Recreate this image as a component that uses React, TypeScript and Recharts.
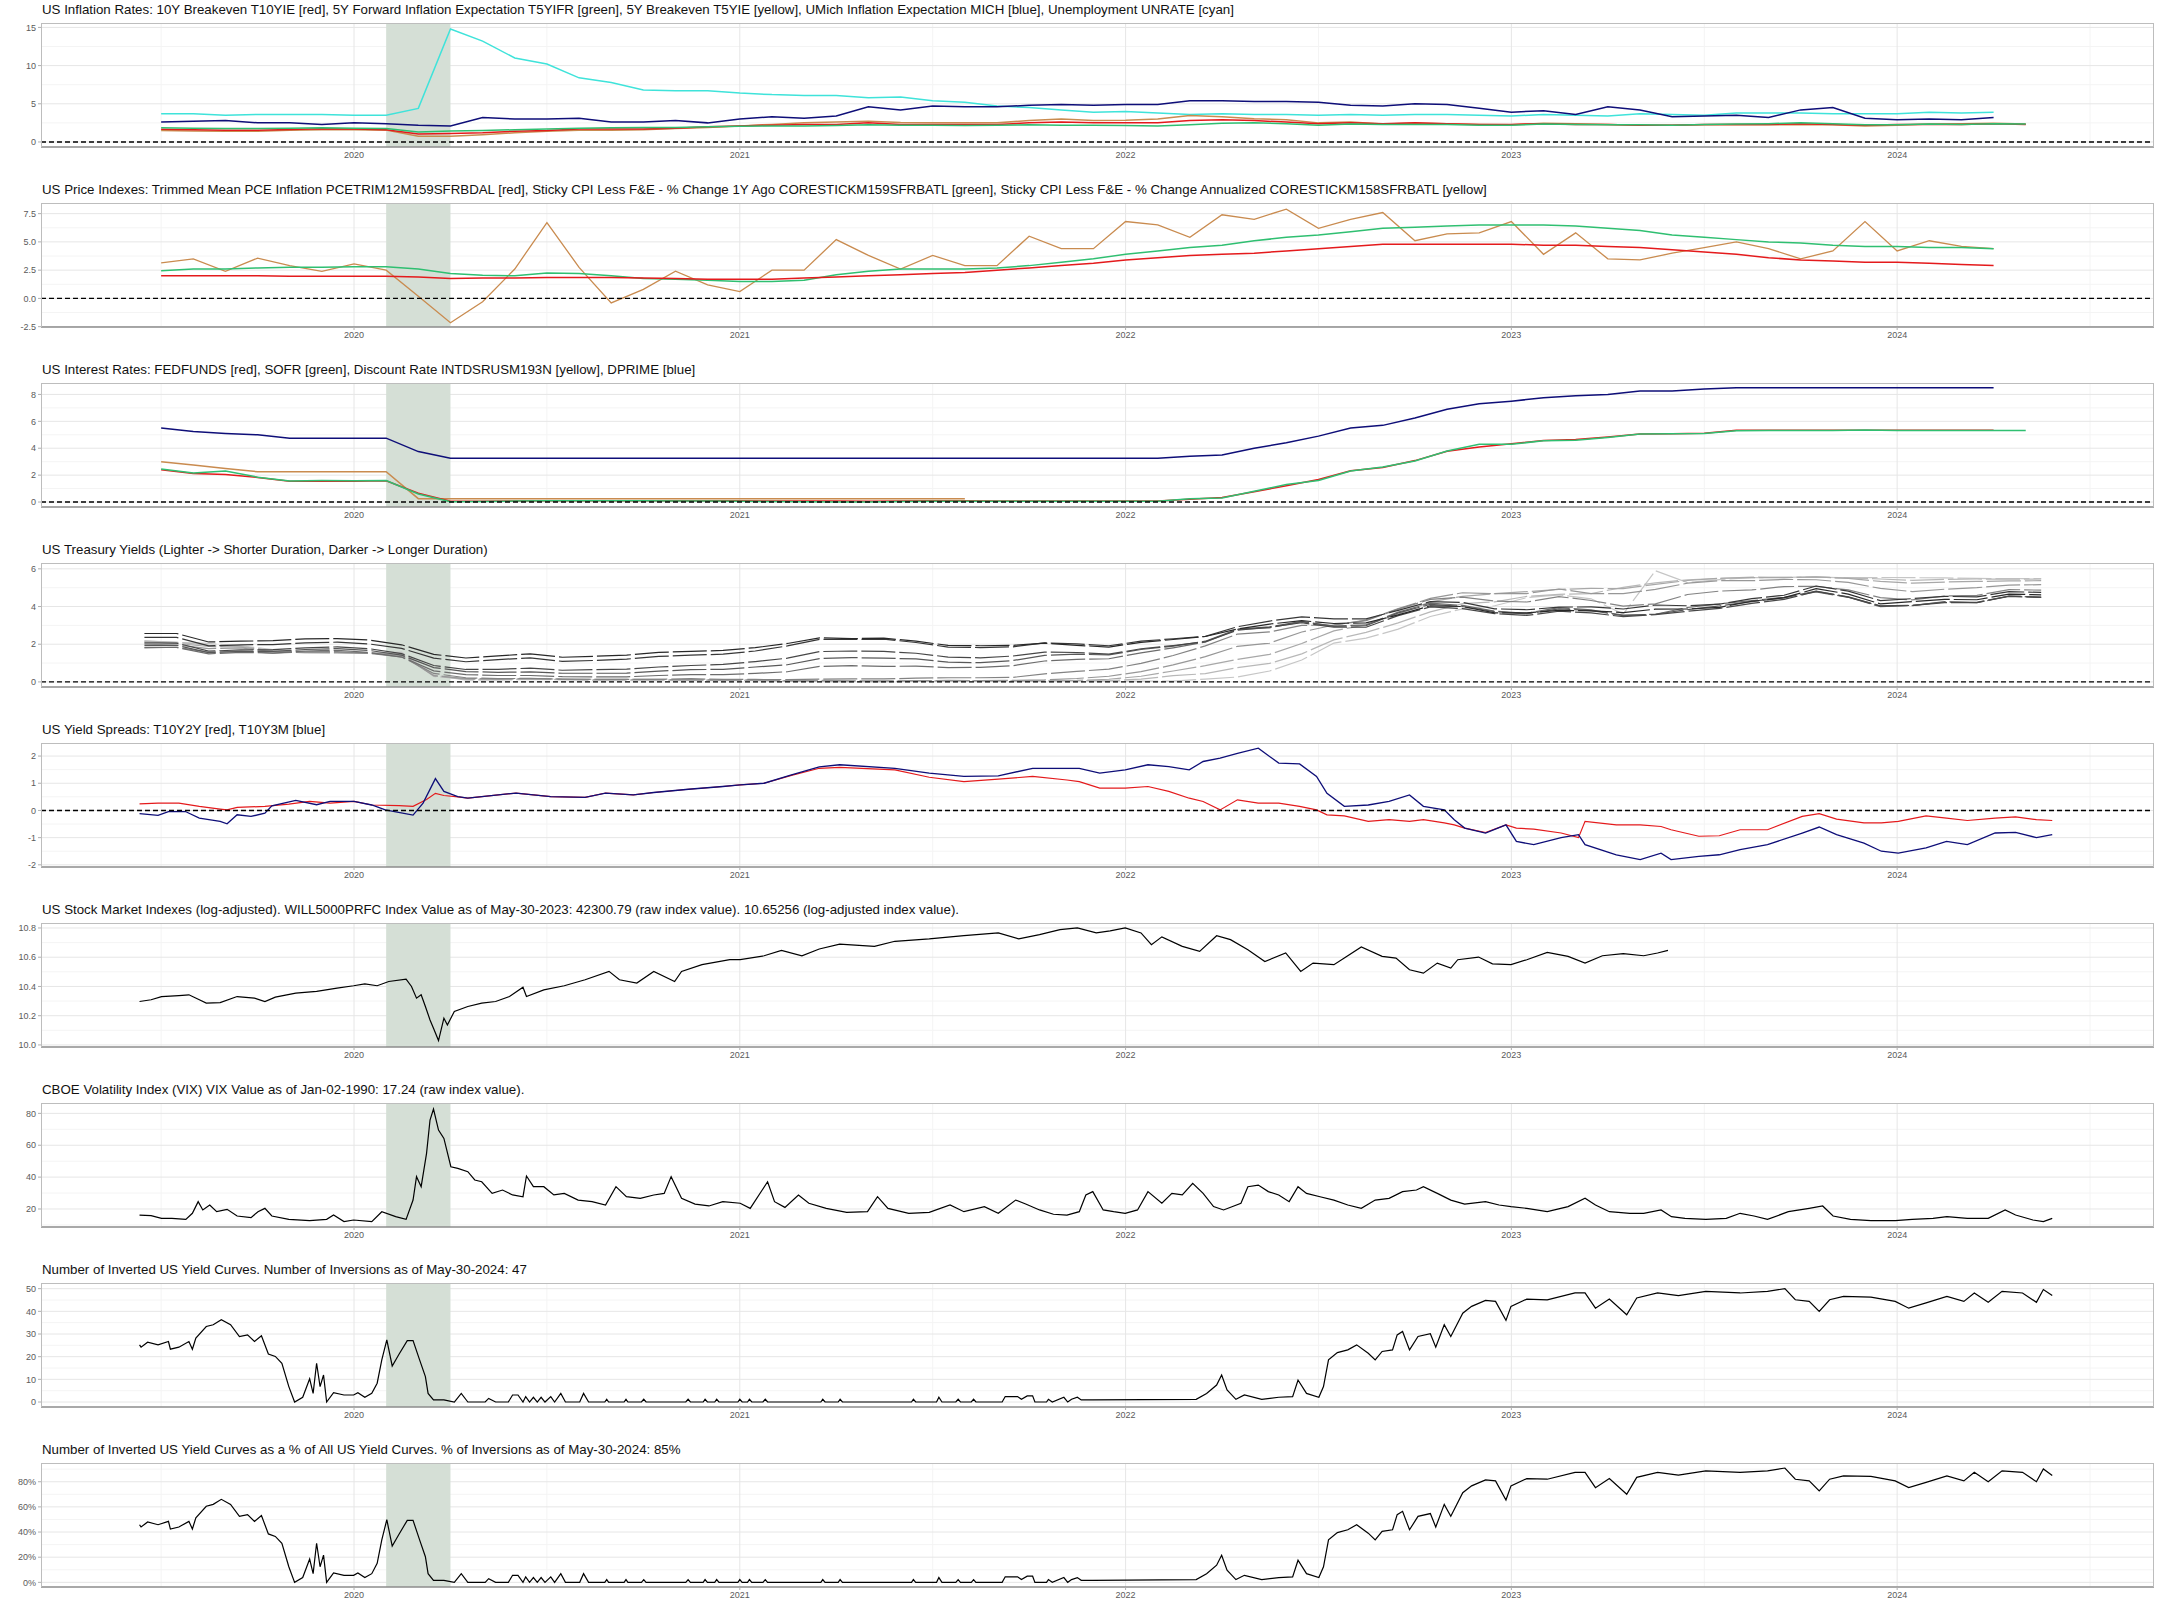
import React from 'react';
import { LineChart, Line, XAxis, YAxis, CartesianGrid, ReferenceArea, ReferenceLine } from 'recharts';

// ---------- layout constants ----------
const W = 2160;
const PANEL_H = 180;
const X_DOMAIN: [number, number] = [2019.1886, 2024.6658];
const YEAR_TICKS = [2020, 2021, 2022, 2023, 2024];
const HALF_YEARS = [2019.5, 2020.5, 2021.5, 2022.5, 2023.5, 2024.5];
const RECESSION_START = 2020.0833;
const RECESSION_END = 2020.25;
const FONT = '"Liberation Sans", Arial, Helvetica, sans-serif';

// ---------- helpers (dates only) ----------
function monthSeq(start: string, n: number): string[] {
  const [y0, m0] = start.split('-').map(Number);
  const out: string[] = [];
  for (let i = 0; i < n; i++) {
    const t = m0 - 1 + i;
    out.push(`${y0 + Math.floor(t / 12)}-${String((t % 12) + 1).padStart(2, '0')}`);
  }
  return out;
}
const monthX = (s: string, offset = 0) => {
  const [y, m] = s.split('-').map(Number);
  return y + (m - 1) / 12 + offset;
};

// ---------- Panel 1: inflation (monthly, from 2019-07) ----------
const INFL_MONTHS = monthSeq('2019-07', 59);
const UNRATE = [3.7, 3.7, 3.5, 3.6, 3.6, 3.6,
  3.5, 3.5, 4.4, 14.8, 13.2, 11.0, 10.2, 8.4, 7.8, 6.8, 6.7, 6.7,
  6.4, 6.2, 6.1, 6.1, 5.8, 5.9, 5.4, 5.2, 4.7, 4.5, 4.2, 3.9,
  4.0, 3.8, 3.6, 3.7, 3.6, 3.6, 3.5, 3.6, 3.5, 3.6, 3.6, 3.5,
  3.4, 3.6, 3.5, 3.4, 3.7, 3.6, 3.5, 3.8, 3.8, 3.8, 3.7, 3.7,
  3.7, 3.9, 3.8, 3.9];
const MICH = [2.6, 2.7, 2.8, 2.5, 2.5, 2.3,
  2.5, 2.4, 2.2, 2.1, 3.2, 3.0, 3.0, 3.1, 2.6, 2.6, 2.8, 2.5,
  3.0, 3.3, 3.1, 3.4, 4.6, 4.2, 4.7, 4.6, 4.6, 4.8, 4.9, 4.8,
  4.9, 4.9, 5.4, 5.4, 5.3, 5.3, 5.2, 4.8, 4.7, 5.0, 4.9, 4.4,
  3.9, 4.1, 3.6, 4.6, 4.2, 3.3, 3.4, 3.5, 3.2, 4.2, 4.5, 3.1,
  2.9, 3.0, 2.9, 3.2];
const T10YIE = [1.65, 1.6, 1.55, 1.55, 1.63, 1.73,
  1.7, 1.6, 1.05, 1.1, 1.2, 1.4, 1.5, 1.7, 1.7, 1.7, 1.8, 2.0,
  2.1, 2.2, 2.3, 2.3, 2.5, 2.3, 2.3, 2.3, 2.3, 2.5, 2.6, 2.5,
  2.5, 2.5, 2.8, 2.9, 2.8, 2.6, 2.4, 2.5, 2.4, 2.5, 2.4, 2.3,
  2.3, 2.4, 2.3, 2.3, 2.2, 2.2, 2.3, 2.3, 2.3, 2.4, 2.3, 2.2,
  2.3, 2.3, 2.3, 2.4, 2.3];
const T5YIFR = [1.85, 1.8, 1.75, 1.75, 1.8, 1.85,
  1.8, 1.75, 1.3, 1.45, 1.5, 1.6, 1.7, 1.8, 1.85, 1.9, 1.9, 2.0,
  2.05, 2.1, 2.1, 2.15, 2.25, 2.2, 2.2, 2.15, 2.2, 2.25, 2.2, 2.2,
  2.15, 2.1, 2.25, 2.45, 2.5, 2.4, 2.2, 2.35, 2.3, 2.3, 2.3, 2.2,
  2.2, 2.35, 2.3, 2.25, 2.25, 2.2, 2.3, 2.35, 2.4, 2.5, 2.4, 2.25,
  2.25, 2.35, 2.3, 2.4, 2.35];
const T5YIE = [1.5, 1.45, 1.4, 1.4, 1.55, 1.6,
  1.6, 1.55, 0.75, 0.75, 0.95, 1.2, 1.4, 1.55, 1.55, 1.6, 1.75, 1.9,
  2.1, 2.3, 2.5, 2.6, 2.7, 2.55, 2.5, 2.5, 2.5, 2.8, 3.0, 2.8,
  2.85, 3.0, 3.45, 3.3, 3.05, 2.9, 2.5, 2.6, 2.35, 2.45, 2.4, 2.3,
  2.25, 2.45, 2.4, 2.3, 2.2, 2.2, 2.25, 2.3, 2.25, 2.3, 2.25, 2.1,
  2.2, 2.35, 2.4, 2.45, 2.35];

// ---------- Panel 2: price indexes (monthly, from 2019-07) ----------
const PRICE_MONTHS = monthSeq('2019-07', 58);
const PCETRIM = [2.0, 2.0, 2.0, 2.0, 1.95, 1.95,
  1.95, 1.95, 1.9, 1.75, 1.8, 1.8, 1.85, 1.85, 1.85, 1.8, 1.75, 1.7,
  1.7, 1.7, 1.8, 1.9, 2.0, 2.1, 2.2, 2.3, 2.5, 2.7, 2.9, 3.1,
  3.4, 3.6, 3.8, 3.9, 4.0, 4.2, 4.4, 4.6, 4.8, 4.8, 4.8, 4.8,
  4.8, 4.7, 4.7, 4.6, 4.5, 4.3, 4.1, 3.9, 3.6, 3.4, 3.3, 3.2,
  3.2, 3.1, 3.0, 2.9];
const STICKY_1Y = [2.45, 2.6, 2.6, 2.7, 2.75, 2.75,
  2.8, 2.8, 2.6, 2.2, 2.05, 2.0, 2.25, 2.2, 2.0, 1.75, 1.7, 1.6,
  1.5, 1.5, 1.6, 2.1, 2.4, 2.6, 2.6, 2.6, 2.7, 2.9, 3.2, 3.5,
  3.9, 4.2, 4.5, 4.7, 5.1, 5.4, 5.6, 5.9, 6.2, 6.3, 6.4, 6.5,
  6.5, 6.5, 6.4, 6.2, 6.0, 5.6, 5.4, 5.2, 5.0, 4.9, 4.7, 4.6,
  4.6, 4.5, 4.5, 4.4];
const STICKY_ANN = [3.15, 3.5, 2.4, 3.56, 2.9, 2.4,
  3.06, 2.5, 0.2, -2.15, -0.3, 2.6, 6.7, 2.75, -0.4, 0.8, 2.4, 1.2,
  0.6, 2.5, 2.5, 5.2, 3.8, 2.6, 3.8, 2.9, 2.9, 5.5, 4.4, 4.4,
  6.8, 6.5, 5.4, 7.4, 7.0, 7.9, 6.2, 7.0, 7.6, 5.1, 5.7, 5.8,
  6.8, 3.9, 5.8, 3.5, 3.4, 4.0, 4.5, 5.0, 4.4, 3.5, 4.2, 6.8,
  4.2, 5.1, 4.6, 4.4];

// ---------- Panel 3: interest rates (monthly, from 2019-07) ----------
const RATE_MONTHS = monthSeq('2019-07', 59);
const DPRIME = [5.5, 5.25, 5.1, 5.0, 4.75, 4.75,
  4.75, 4.75, 3.75, 3.25, 3.25, 3.25, 3.25, 3.25, 3.25, 3.25, 3.25, 3.25,
  3.25, 3.25, 3.25, 3.25, 3.25, 3.25, 3.25, 3.25, 3.25, 3.25, 3.25, 3.25,
  3.25, 3.25, 3.4, 3.5, 4.0, 4.4, 4.9, 5.5, 5.7, 6.25, 6.9, 7.3,
  7.5, 7.75, 7.9, 8.0, 8.25, 8.25, 8.4, 8.5, 8.5, 8.5, 8.5, 8.5,
  8.5, 8.5, 8.5, 8.5];
const FEDFUNDS = [2.4, 2.13, 2.04, 1.83, 1.55, 1.55,
  1.55, 1.58, 0.65, 0.05, 0.05, 0.08, 0.09, 0.1, 0.09, 0.09, 0.09, 0.09,
  0.09, 0.08, 0.07, 0.07, 0.06, 0.08, 0.1, 0.09, 0.08, 0.08, 0.08, 0.08,
  0.08, 0.08, 0.2, 0.33, 0.77, 1.21, 1.68, 2.33, 2.56, 3.08, 3.78, 4.1,
  4.33, 4.57, 4.65, 4.83, 5.06, 5.08, 5.12, 5.33, 5.33, 5.33, 5.33, 5.33,
  5.33, 5.33, 5.33, 5.33];
const SOFR = [2.45, 2.15, 2.3, 1.85, 1.57, 1.6,
  1.58, 1.6, 0.6, 0.02, 0.03, 0.07, 0.1, 0.09, 0.09, 0.09, 0.08, 0.08,
  0.05, 0.03, 0.02, 0.01, 0.01, 0.04, 0.05, 0.05, 0.05, 0.05, 0.05, 0.05,
  0.05, 0.05, 0.25, 0.3, 0.8, 1.3, 1.6, 2.3, 2.6, 3.05, 3.8, 4.3,
  4.3, 4.55, 4.6, 4.8, 5.05, 5.07, 5.1, 5.3, 5.31, 5.31, 5.32, 5.35,
  5.31, 5.31, 5.31, 5.31, 5.31];
const DISCOUNT = [3.0, 2.75, 2.5, 2.25, 2.25, 2.25,
  2.25, 2.25, 0.25, 0.25, 0.25, 0.25, 0.25, 0.25, 0.25, 0.25, 0.25, 0.25,
  0.25, 0.25, 0.25, 0.25, 0.25, 0.25, 0.25, 0.25];

// ---------- Panel 4: treasury yields (monthly, from 2019-06) ----------
const TSY_MONTHS = monthSeq('2019-06', 60);
const DGS1MO = [2.18, 2.10, 2.04, 1.92, 1.72, 1.58, 1.56,
  1.53, 1.58, 0.37, 0.09, 0.10, 0.13, 0.11, 0.09, 0.09, 0.09, 0.09, 0.08,
  0.08, 0.04, 0.02, 0.01, 0.01, 0.03, 0.05, 0.05, 0.06, 0.06, 0.07, 0.05,
  0.04, 0.04, 0.15, 0.26, 0.58, 1.16, 2.06, 2.32, 2.80, 3.47, 3.88, 4.04,
  4.47, 4.62, 4.41, 3.6, 5.9, 5.27, 5.43, 5.53, 5.55, 5.56, 5.53, 5.54,
  5.53, 5.52, 5.49, 5.48, 5.48];
const DGS3MO = [2.17, 2.10, 1.95, 1.89, 1.65, 1.54, 1.54,
  1.52, 1.52, 0.29, 0.14, 0.13, 0.16, 0.13, 0.10, 0.11, 0.10, 0.09, 0.09,
  0.08, 0.04, 0.03, 0.02, 0.02, 0.04, 0.05, 0.05, 0.04, 0.05, 0.05, 0.06,
  0.15, 0.33, 0.44, 0.76, 0.98, 1.49, 2.23, 2.63, 3.13, 3.72, 4.15, 4.25,
  4.54, 4.65, 4.69, 5.02, 5.26, 5.42, 5.49, 5.56, 5.55, 5.56, 5.52, 5.46,
  5.39, 5.44, 5.46, 5.45, 5.46];
const DGS6MO = [2.13, 2.04, 1.88, 1.85, 1.64, 1.57, 1.56,
  1.53, 1.48, 0.34, 0.15, 0.15, 0.17, 0.14, 0.12, 0.12, 0.12, 0.10, 0.09,
  0.09, 0.06, 0.05, 0.04, 0.04, 0.05, 0.05, 0.05, 0.05, 0.06, 0.08, 0.14,
  0.30, 0.58, 0.86, 1.20, 1.46, 2.04, 2.71, 3.03, 3.60, 4.25, 4.54, 4.68,
  4.79, 4.91, 4.96, 4.95, 5.18, 5.38, 5.50, 5.53, 5.53, 5.57, 5.49, 5.33,
  5.24, 5.30, 5.33, 5.36, 5.37];
const DGS1 = [2.00, 1.96, 1.77, 1.80, 1.61, 1.57, 1.55,
  1.53, 1.41, 0.33, 0.18, 0.16, 0.18, 0.15, 0.13, 0.13, 0.13, 0.12, 0.10,
  0.10, 0.07, 0.08, 0.06, 0.05, 0.07, 0.08, 0.07, 0.08, 0.11, 0.18, 0.30,
  0.55, 0.90, 1.34, 1.89, 2.06, 2.65, 3.02, 3.28, 3.89, 4.43, 4.73, 4.68,
  4.69, 4.93, 4.68, 4.68, 4.91, 5.24, 5.37, 5.37, 5.44, 5.42, 5.28, 4.96,
  4.79, 4.92, 5.00, 5.14, 5.16];
const DGS2 = [1.80, 1.84, 1.57, 1.63, 1.53, 1.60, 1.61,
  1.52, 1.33, 0.45, 0.22, 0.17, 0.19, 0.14, 0.14, 0.13, 0.14, 0.17, 0.13,
  0.13, 0.12, 0.15, 0.16, 0.16, 0.20, 0.22, 0.22, 0.24, 0.43, 0.56, 0.68,
  0.98, 1.40, 1.91, 2.54, 2.65, 3.00, 3.02, 3.25, 3.86, 4.38, 4.50, 4.29,
  4.24, 4.53, 4.32, 4.02, 4.14, 4.64, 4.82, 4.88, 5.06, 5.07, 4.88, 4.47,
  4.35, 4.56, 4.59, 4.90, 4.87];
const DGS5 = [1.83, 1.83, 1.49, 1.57, 1.53, 1.64, 1.68,
  1.56, 1.32, 0.59, 0.39, 0.34, 0.34, 0.28, 0.27, 0.27, 0.34, 0.39, 0.39,
  0.45, 0.54, 0.82, 0.86, 0.82, 0.84, 0.76, 0.77, 0.86, 1.11, 1.20, 1.23,
  1.54, 1.81, 2.11, 2.78, 2.87, 3.19, 2.96, 3.03, 3.70, 4.18, 4.06, 3.76,
  3.64, 3.94, 3.82, 3.54, 3.59, 3.95, 4.14, 4.31, 4.49, 4.77, 4.49, 3.99,
  4.05, 4.26, 4.20, 4.56, 4.50];
const DGS7 = [1.94, 1.94, 1.55, 1.62, 1.62, 1.72, 1.77,
  1.67, 1.42, 0.76, 0.55, 0.51, 0.53, 0.46, 0.46, 0.47, 0.57, 0.65, 0.67,
  0.79, 0.91, 1.24, 1.29, 1.26, 1.22, 1.05, 1.02, 1.13, 1.41, 1.47, 1.43,
  1.72, 1.90, 2.16, 2.80, 2.92, 3.21, 2.95, 2.98, 3.66, 4.11, 4.00, 3.73,
  3.61, 3.88, 3.78, 3.52, 3.59, 3.84, 4.03, 4.26, 4.46, 4.82, 4.51, 4.04,
  4.06, 4.24, 4.22, 4.56, 4.50];
const DGS10 = [2.07, 2.06, 1.63, 1.70, 1.71, 1.81, 1.86,
  1.76, 1.50, 0.87, 0.66, 0.67, 0.73, 0.62, 0.65, 0.68, 0.79, 0.87, 0.93,
  1.08, 1.26, 1.61, 1.64, 1.62, 1.52, 1.32, 1.28, 1.37, 1.58, 1.56, 1.47,
  1.76, 1.93, 2.13, 2.75, 2.90, 3.14, 2.90, 2.90, 3.52, 3.98, 3.89, 3.62,
  3.53, 3.75, 3.66, 3.46, 3.57, 3.75, 3.90, 4.17, 4.38, 4.80, 4.50, 4.02,
  4.06, 4.21, 4.21, 4.54, 4.48];
const DGS20 = [2.36, 2.36, 1.91, 1.97, 1.98, 2.07, 2.11,
  2.01, 1.78, 1.26, 1.07, 1.18, 1.28, 1.09, 1.14, 1.21, 1.35, 1.42, 1.47,
  1.64, 1.91, 2.26, 2.25, 2.27, 2.09, 1.85, 1.82, 1.86, 2.07, 2.02, 1.92,
  2.16, 2.29, 2.42, 2.93, 3.23, 3.45, 3.34, 3.35, 3.80, 4.26, 4.22, 3.88,
  3.83, 3.97, 3.98, 3.87, 4.08, 4.04, 4.13, 4.42, 4.60, 5.09, 4.82, 4.31,
  4.42, 4.54, 4.51, 4.79, 4.75];
const DGS30 = [2.57, 2.57, 2.12, 2.16, 2.19, 2.28, 2.30,
  2.22, 1.97, 1.46, 1.27, 1.38, 1.49, 1.31, 1.36, 1.42, 1.57, 1.62, 1.67,
  1.82, 2.04, 2.34, 2.30, 2.32, 2.16, 1.94, 1.92, 1.94, 2.06, 1.94, 1.85,
  2.10, 2.25, 2.41, 2.81, 3.07, 3.25, 3.10, 3.13, 3.56, 4.04, 4.00, 3.66,
  3.66, 3.80, 3.77, 3.68, 3.86, 3.87, 3.96, 4.28, 4.47, 4.95, 4.66, 4.14,
  4.26, 4.38, 4.36, 4.66, 4.62];

// ---------- Panel 5: yield spreads [decimal year, value] ----------
const T10Y2Y: [number, number][] = [
  [2019.444, 0.24], [2019.492, 0.27], [2019.546, 0.27], [2019.599, 0.15], [2019.653, 0.05], [2019.671, 0.02],
  [2019.697, 0.11], [2019.769, 0.15], [2019.831, 0.23], [2019.885, 0.33], [2019.938, 0.27], [2020.0, 0.33],
  [2020.046, 0.2], [2020.117, 0.18], [2020.153, 0.15], [2020.188, 0.4], [2020.211, 0.63], [2020.233, 0.55],
  [2020.269, 0.5], [2020.295, 0.45], [2020.42, 0.64], [2020.51, 0.51], [2020.599, 0.48], [2020.652, 0.64],
  [2020.724, 0.57], [2020.777, 0.66], [2020.867, 0.78], [2020.956, 0.88], [2021.001, 0.94], [2021.063, 1.0],
  [2021.134, 1.29], [2021.206, 1.55], [2021.259, 1.58], [2021.402, 1.49], [2021.491, 1.22], [2021.581, 1.06],
  [2021.67, 1.15], [2021.759, 1.25], [2021.848, 1.12], [2021.88, 1.06], [2021.933, 0.82], [2021.999, 0.82],
  [2022.058, 0.88], [2022.112, 0.7], [2022.165, 0.45], [2022.201, 0.33], [2022.245, 0.02], [2022.29, 0.39],
  [2022.344, 0.27], [2022.397, 0.27], [2022.451, 0.15], [2022.495, 0.02], [2022.522, -0.16], [2022.567, -0.2],
  [2022.629, -0.4], [2022.683, -0.34], [2022.736, -0.4], [2022.772, -0.34], [2022.826, -0.46], [2022.852, -0.53],
  [2022.879, -0.65], [2022.933, -0.81], [2022.986, -0.53], [2023.013, -0.65], [2023.058, -0.69], [2023.129, -0.83],
  [2023.174, -1.0], [2023.191, -0.4], [2023.272, -0.53], [2023.334, -0.53], [2023.388, -0.59], [2023.414, -0.71],
  [2023.486, -0.95], [2023.539, -0.93], [2023.593, -0.71], [2023.664, -0.71], [2023.754, -0.22], [2023.798, -0.12],
  [2023.843, -0.32], [2023.914, -0.46], [2023.959, -0.46], [2024.003, -0.4], [2024.075, -0.2], [2024.128, -0.28],
  [2024.182, -0.37], [2024.254, -0.28], [2024.307, -0.24], [2024.361, -0.34], [2024.402, -0.37],
];
const T10Y3M: [number, number][] = [
  [2019.444, -0.12], [2019.492, -0.18], [2019.519, -0.04], [2019.563, -0.04], [2019.599, -0.28], [2019.653, -0.4],
  [2019.671, -0.49], [2019.697, -0.16], [2019.733, -0.22], [2019.769, -0.1], [2019.787, 0.17], [2019.849, 0.37],
  [2019.903, 0.21], [2019.938, 0.33], [2020.0, 0.33], [2020.046, 0.2], [2020.081, 0.02], [2020.153, -0.17],
  [2020.179, 0.27], [2020.211, 1.17], [2020.233, 0.7], [2020.269, 0.51], [2020.295, 0.45], [2020.42, 0.64],
  [2020.51, 0.51], [2020.599, 0.48], [2020.652, 0.64], [2020.724, 0.57], [2020.777, 0.66], [2020.867, 0.78],
  [2020.956, 0.88], [2021.001, 0.94], [2021.063, 1.0], [2021.134, 1.31], [2021.206, 1.6], [2021.259, 1.68],
  [2021.402, 1.55], [2021.491, 1.37], [2021.581, 1.25], [2021.67, 1.27], [2021.759, 1.55], [2021.848, 1.55],
  [2021.88, 1.55], [2021.933, 1.37], [2021.999, 1.49], [2022.058, 1.68], [2022.112, 1.61], [2022.165, 1.49],
  [2022.201, 1.8], [2022.245, 1.92], [2022.29, 2.1], [2022.344, 2.29], [2022.397, 1.74], [2022.451, 1.71],
  [2022.495, 1.25], [2022.522, 0.63], [2022.567, 0.15], [2022.629, 0.2], [2022.683, 0.33], [2022.736, 0.57],
  [2022.772, 0.15], [2022.826, 0.02], [2022.852, -0.34], [2022.879, -0.65], [2022.933, -0.83], [2022.986, -0.53],
  [2023.013, -1.14], [2023.058, -1.26], [2023.129, -1.0], [2023.174, -0.89], [2023.191, -1.26], [2023.272, -1.63],
  [2023.334, -1.81], [2023.388, -1.57], [2023.414, -1.81], [2023.486, -1.69], [2023.539, -1.63], [2023.593, -1.44],
  [2023.664, -1.26], [2023.754, -0.83], [2023.798, -0.61], [2023.843, -0.89], [2023.914, -1.2], [2023.959, -1.5],
  [2024.003, -1.57], [2024.075, -1.38], [2024.128, -1.14], [2024.182, -1.26], [2024.254, -0.83], [2024.307, -0.81],
  [2024.361, -1.0], [2024.402, -0.89],
];

// ---------- Panel 6: Wilshire 5000 (log) ----------
const WILL5000_LOG: [number, number][] = [
  [2019.444, 10.297], [2019.474, 10.309], [2019.501, 10.331], [2019.546, 10.338], [2019.572, 10.343], [2019.599, 10.309],
  [2019.617, 10.286], [2019.653, 10.29], [2019.697, 10.331], [2019.742, 10.32], [2019.769, 10.297], [2019.796, 10.327],
  [2019.849, 10.354], [2019.903, 10.366], [2019.956, 10.389], [2019.999, 10.405], [2020.028, 10.418], [2020.06, 10.405],
  [2020.09, 10.434], [2020.135, 10.45], [2020.149, 10.4], [2020.162, 10.32], [2020.174, 10.343], [2020.185, 10.263],
  [2020.197, 10.171], [2020.206, 10.114], [2020.219, 10.03], [2020.233, 10.183], [2020.242, 10.137], [2020.26, 10.229],
  [2020.295, 10.263], [2020.331, 10.286], [2020.367, 10.297], [2020.403, 10.331], [2020.438, 10.395], [2020.447, 10.331],
  [2020.492, 10.377], [2020.545, 10.405], [2020.599, 10.446], [2020.661, 10.503], [2020.688, 10.446], [2020.733, 10.423],
  [2020.777, 10.503], [2020.831, 10.434], [2020.849, 10.503], [2020.902, 10.549], [2020.974, 10.583], [2021.001, 10.583],
  [2021.063, 10.61], [2021.108, 10.647], [2021.161, 10.61], [2021.206, 10.656], [2021.259, 10.69], [2021.349, 10.674],
  [2021.402, 10.709], [2021.491, 10.725], [2021.581, 10.747], [2021.67, 10.766], [2021.723, 10.725], [2021.777, 10.754],
  [2021.83, 10.789], [2021.875, 10.8], [2021.924, 10.766], [2021.96, 10.78], [2021.999, 10.8], [2022.04, 10.766],
  [2022.067, 10.686], [2022.094, 10.739], [2022.147, 10.674], [2022.192, 10.64], [2022.236, 10.747], [2022.272, 10.72],
  [2022.317, 10.651], [2022.361, 10.571], [2022.415, 10.629], [2022.454, 10.503], [2022.486, 10.56], [2022.54, 10.549],
  [2022.567, 10.594], [2022.611, 10.67], [2022.665, 10.606], [2022.701, 10.594], [2022.736, 10.514], [2022.772, 10.491],
  [2022.808, 10.56], [2022.843, 10.526], [2022.861, 10.583], [2022.915, 10.601], [2022.951, 10.555], [2022.999, 10.549],
  [2023.04, 10.583], [2023.093, 10.633], [2023.147, 10.606], [2023.191, 10.56], [2023.236, 10.61], [2023.29, 10.624],
  [2023.343, 10.61], [2023.379, 10.629], [2023.406, 10.647],
];

// ---------- Panel 7: VIX ----------
const VIX: [number, number][] = [
  [2019.444, 16.2], [2019.474, 15.8], [2019.501, 14.1], [2019.528, 14.1], [2019.564, 13.5], [2019.581, 17.3],
  [2019.596, 24.6], [2019.608, 19.4], [2019.626, 22.5], [2019.644, 18.3], [2019.671, 19.8], [2019.697, 15.6],
  [2019.733, 14.6], [2019.751, 18.3], [2019.769, 20.4], [2019.787, 15.6], [2019.831, 13.5], [2019.885, 12.7],
  [2019.929, 13.5], [2019.947, 16.2], [2019.974, 12.1], [2019.999, 13.1], [2020.046, 12.1], [2020.072, 18.3],
  [2020.108, 15.2], [2020.135, 13.5], [2020.153, 25.6], [2020.162, 40.3], [2020.174, 34.0], [2020.188, 54.9],
  [2020.197, 75.8], [2020.206, 82.7], [2020.219, 69.5], [2020.233, 64.3], [2020.251, 46.5], [2020.269, 45.5],
  [2020.295, 43.4], [2020.313, 38.2], [2020.331, 37.1], [2020.358, 29.8], [2020.385, 31.9], [2020.411, 28.8],
  [2020.438, 27.7], [2020.447, 40.7], [2020.465, 34.0], [2020.492, 34.0], [2020.518, 28.8], [2020.545, 29.8],
  [2020.581, 25.6], [2020.617, 24.6], [2020.652, 22.5], [2020.679, 34.0], [2020.706, 27.7], [2020.742, 26.7],
  [2020.777, 28.8], [2020.804, 29.8], [2020.822, 40.3], [2020.849, 26.7], [2020.884, 23.1], [2020.92, 21.9],
  [2020.956, 24.6], [2021.001, 23.6], [2021.027, 20.4], [2021.072, 37.1], [2021.09, 24.6], [2021.117, 21.0],
  [2021.152, 28.8], [2021.179, 23.6], [2021.224, 20.4], [2021.277, 17.9], [2021.331, 18.3], [2021.357, 27.7],
  [2021.384, 20.4], [2021.438, 17.3], [2021.491, 17.9], [2021.545, 22.5], [2021.581, 18.3], [2021.634, 21.5],
  [2021.67, 17.3], [2021.715, 25.6], [2021.741, 23.1], [2021.777, 19.4], [2021.813, 16.7], [2021.848, 16.2],
  [2021.88, 18.3], [2021.897, 28.8], [2021.915, 30.9], [2021.942, 19.4], [2021.969, 18.3], [2021.999, 17.3],
  [2022.031, 19.4], [2022.058, 30.9], [2022.094, 23.6], [2022.12, 29.8], [2022.147, 28.8], [2022.174, 36.1],
  [2022.201, 29.8], [2022.228, 21.5], [2022.254, 19.4], [2022.299, 23.6], [2022.317, 34.0], [2022.344, 35.0],
  [2022.37, 30.9], [2022.397, 28.8], [2022.424, 24.6], [2022.447, 34.0], [2022.469, 29.8], [2022.504, 27.7],
  [2022.54, 25.6], [2022.576, 22.5], [2022.611, 20.4], [2022.647, 25.6], [2022.683, 26.7], [2022.718, 30.9],
  [2022.754, 31.9], [2022.772, 34.0], [2022.808, 29.8], [2022.843, 25.6], [2022.879, 23.1], [2022.933, 24.6],
  [2022.968, 22.5], [2022.999, 21.5], [2023.04, 20.4], [2023.093, 18.3], [2023.147, 21.5], [2023.191, 26.7],
  [2023.218, 22.5], [2023.254, 18.3], [2023.307, 17.3], [2023.343, 17.3], [2023.388, 19.4], [2023.415, 15.2],
  [2023.45, 14.1], [2023.504, 13.5], [2023.557, 14.1], [2023.593, 17.3], [2023.629, 15.6], [2023.664, 13.5],
  [2023.718, 18.3], [2023.772, 20.4], [2023.807, 21.9], [2023.834, 15.6], [2023.879, 13.5], [2023.932, 12.7],
  [2023.995, 12.7], [2024.039, 13.5], [2024.093, 14.1], [2024.129, 15.2], [2024.182, 14.1], [2024.236, 14.1],
  [2024.28, 19.4], [2024.307, 16.2], [2024.352, 13.1], [2024.379, 12.1], [2024.402, 14.1],
];

// ---------- Panel 8: number of inversions ----------
const INVERSIONS: [number, number][] = [
  [2019.444, 25.2], [2019.448, 24.2], [2019.465, 26.4], [2019.492, 25.2], [2019.519, 26.7], [2019.524, 23.3],
  [2019.546, 24.2], [2019.572, 26.7], [2019.581, 23.3], [2019.59, 28.2], [2019.617, 33.3], [2019.635, 34.1],
  [2019.656, 36.3], [2019.68, 34.1], [2019.703, 28.9], [2019.724, 29.6], [2019.742, 26.7], [2019.76, 29.2],
  [2019.778, 21.2], [2019.796, 20.1], [2019.813, 17.1], [2019.831, 6.8], [2019.846, 0], [2019.867, 2.1],
  [2019.885, 10.2], [2019.894, 3.8], [2019.903, 17.1], [2019.912, 6.8], [2019.921, 11.9], [2019.929, 0],
  [2019.947, 4.1], [2019.974, 3.1], [2019.999, 3.1], [2020.01, 4.1], [2020.028, 2.1], [2020.046, 3.8],
  [2020.06, 8.3], [2020.072, 18.6], [2020.085, 27.4], [2020.099, 15.9], [2020.117, 21.2], [2020.138, 27.1],
  [2020.153, 27.1], [2020.17, 18.6], [2020.185, 11.2], [2020.192, 3.8], [2020.206, 0.9], [2020.233, 0.9],
  [2020.26, 0], [2020.278, 3.8], [2020.295, 0], [2020.34, 0], [2020.349, 1.6], [2020.367, 0],
  [2020.4, 0], [2020.411, 3.1], [2020.425, 3.1], [2020.438, 0], [2020.445, 2.4], [2020.455, 0],
  [2020.465, 2.1], [2020.475, 0], [2020.485, 2.1], [2020.495, 0], [2020.51, 2.4], [2020.52, 0],
  [2020.536, 3.8], [2020.548, 0], [2020.585, 0], [2020.595, 3.8], [2020.608, 0], [2020.65, 0],
  [2020.655, 1.2], [2020.66, 0], [2020.7, 0], [2020.705, 1.2], [2020.71, 0], [2020.745, 0],
  [2020.751, 1.2], [2020.757, 0], [2020.86, 0], [2020.866, 1.2], [2020.872, 0], [2020.905, 0],
  [2020.91, 1.2], [2020.916, 0], [2020.935, 0], [2020.94, 1.2], [2020.946, 0], [2020.995, 0],
  [2021.0, 1.2], [2021.006, 0], [2021.02, 0], [2021.025, 1.2], [2021.031, 0], [2021.06, 0],
  [2021.066, 1.2], [2021.072, 0], [2021.21, 0], [2021.215, 1.2], [2021.221, 0], [2021.255, 0],
  [2021.26, 1.2], [2021.266, 0], [2021.445, 0], [2021.45, 1.2], [2021.456, 0], [2021.51, 0],
  [2021.516, 2.1], [2021.524, 0], [2021.56, 0], [2021.566, 1.2], [2021.572, 0], [2021.6, 0],
  [2021.606, 1.2], [2021.612, 0], [2021.68, 0], [2021.688, 2.4], [2021.72, 2.4], [2021.73, 1.2],
  [2021.745, 2.7], [2021.759, 2.7], [2021.765, 0], [2021.795, 0], [2021.8, 1.2], [2021.81, 0],
  [2021.84, 2.1], [2021.85, 0], [2021.86, 1.2], [2021.875, 2.1], [2021.885, 0.9], [2021.915, 0.9],
  [2022.183, 1.2], [2022.21, 3.8], [2022.236, 7.5], [2022.249, 11.9], [2022.263, 5.3], [2022.286, 1.2],
  [2022.308, 3.1], [2022.353, 1.2], [2022.397, 2.1], [2022.433, 2.4], [2022.447, 9.7], [2022.469, 3.8],
  [2022.501, 2.1], [2022.513, 6.8], [2022.526, 18.6], [2022.549, 21.8], [2022.576, 23.0], [2022.599, 25.2],
  [2022.629, 21.5], [2022.647, 18.6], [2022.665, 22.3], [2022.692, 23.0], [2022.704, 29.6], [2022.718, 31.1],
  [2022.736, 23.0], [2022.758, 28.9], [2022.79, 30.1], [2022.804, 24.2], [2022.826, 34.1], [2022.843, 28.9],
  [2022.874, 39.2], [2022.897, 42.2], [2022.933, 44.8], [2022.959, 44.4], [2022.986, 36.0], [2022.999, 42.2],
  [2023.04, 45.4], [2023.093, 45.1], [2023.165, 48.1], [2023.191, 48.1], [2023.218, 41.4], [2023.254, 45.4],
  [2023.299, 38.5], [2023.325, 45.9], [2023.379, 48.1], [2023.433, 46.9], [2023.504, 48.8], [2023.593, 48.1],
  [2023.664, 48.8], [2023.709, 50.0], [2023.736, 45.1], [2023.772, 44.4], [2023.798, 40.0], [2023.825, 45.1],
  [2023.861, 46.6], [2023.932, 46.3], [2023.995, 44.4], [2024.03, 41.4], [2024.075, 43.7], [2024.129, 46.6],
  [2024.173, 44.4], [2024.2, 48.1], [2024.236, 44.0], [2024.272, 48.8], [2024.325, 48.1], [2024.361, 44.0],
  [2024.379, 49.6], [2024.402, 47.0],
];

// ---------- Panel 9: inversions as % ----------
const INVERSIONS_PCT: [number, number][] = [
  [2019.444, 45.8], [2019.448, 44.0], [2019.465, 48.0], [2019.492, 45.8], [2019.519, 48.5], [2019.524, 42.4],
  [2019.546, 44.0], [2019.572, 48.5], [2019.581, 42.4], [2019.59, 51.3], [2019.617, 60.5], [2019.635, 62.0],
  [2019.656, 66.0], [2019.68, 62.0], [2019.703, 52.5], [2019.724, 53.8], [2019.742, 48.5], [2019.76, 53.1],
  [2019.778, 38.5], [2019.796, 36.5], [2019.813, 31.1], [2019.831, 12.4], [2019.846, 0], [2019.867, 3.8],
  [2019.885, 18.5], [2019.894, 6.9], [2019.903, 31.1], [2019.912, 12.4], [2019.921, 21.6], [2019.929, 0],
  [2019.947, 7.5], [2019.974, 5.6], [2019.999, 5.6], [2020.01, 7.5], [2020.028, 3.8], [2020.046, 6.9],
  [2020.06, 15.1], [2020.072, 33.8], [2020.085, 49.8], [2020.099, 28.9], [2020.117, 38.5], [2020.138, 49.3],
  [2020.153, 49.3], [2020.17, 33.8], [2020.185, 20.4], [2020.192, 6.9], [2020.206, 1.6], [2020.233, 1.6],
  [2020.26, 0], [2020.278, 6.9], [2020.295, 0], [2020.34, 0], [2020.349, 2.9], [2020.367, 0],
  [2020.4, 0], [2020.411, 5.6], [2020.425, 5.6], [2020.438, 0], [2020.445, 4.4], [2020.455, 0],
  [2020.465, 3.8], [2020.475, 0], [2020.485, 3.8], [2020.495, 0], [2020.51, 4.4], [2020.52, 0],
  [2020.536, 6.9], [2020.548, 0], [2020.585, 0], [2020.595, 6.9], [2020.608, 0], [2020.65, 0],
  [2020.655, 2.2], [2020.66, 0], [2020.7, 0], [2020.705, 2.2], [2020.71, 0], [2020.745, 0],
  [2020.751, 2.2], [2020.757, 0], [2020.86, 0], [2020.866, 2.2], [2020.872, 0], [2020.905, 0],
  [2020.91, 2.2], [2020.916, 0], [2020.935, 0], [2020.94, 2.2], [2020.946, 0], [2020.995, 0],
  [2021.0, 2.2], [2021.006, 0], [2021.02, 0], [2021.025, 2.2], [2021.031, 0], [2021.06, 0],
  [2021.066, 2.2], [2021.072, 0], [2021.21, 0], [2021.215, 2.2], [2021.221, 0], [2021.255, 0],
  [2021.26, 2.2], [2021.266, 0], [2021.445, 0], [2021.45, 2.2], [2021.456, 0], [2021.51, 0],
  [2021.516, 3.8], [2021.524, 0], [2021.56, 0], [2021.566, 2.2], [2021.572, 0], [2021.6, 0],
  [2021.606, 2.2], [2021.612, 0], [2021.68, 0], [2021.688, 4.4], [2021.72, 4.4], [2021.73, 2.2],
  [2021.745, 4.9], [2021.759, 4.9], [2021.765, 0], [2021.795, 0], [2021.8, 2.2], [2021.81, 0],
  [2021.84, 3.8], [2021.85, 0], [2021.86, 2.2], [2021.875, 3.8], [2021.885, 1.6], [2021.915, 1.6],
  [2022.183, 2.2], [2022.21, 6.9], [2022.236, 13.6], [2022.249, 21.6], [2022.263, 9.6], [2022.286, 2.2],
  [2022.308, 5.6], [2022.353, 2.2], [2022.397, 3.8], [2022.433, 4.4], [2022.447, 17.6], [2022.469, 6.9],
  [2022.501, 3.8], [2022.513, 12.4], [2022.526, 33.8], [2022.549, 39.6], [2022.576, 41.8], [2022.599, 45.8],
  [2022.629, 39.1], [2022.647, 33.8], [2022.665, 40.5], [2022.692, 41.8], [2022.704, 53.8], [2022.718, 56.5],
  [2022.736, 41.8], [2022.758, 52.5], [2022.79, 54.7], [2022.804, 44.0], [2022.826, 62.0], [2022.843, 52.5],
  [2022.874, 71.3], [2022.897, 76.7], [2022.933, 81.5], [2022.959, 80.7], [2022.986, 65.5], [2022.999, 76.7],
  [2023.04, 82.5], [2023.093, 82.0], [2023.165, 87.5], [2023.191, 87.5], [2023.218, 75.3], [2023.254, 82.5],
  [2023.299, 70.0], [2023.325, 83.5], [2023.379, 87.5], [2023.433, 85.3], [2023.504, 88.7], [2023.593, 87.5],
  [2023.664, 88.7], [2023.709, 90.9], [2023.736, 82.0], [2023.772, 80.7], [2023.798, 72.7], [2023.825, 82.0],
  [2023.861, 84.7], [2023.932, 84.2], [2023.995, 80.7], [2024.03, 75.3], [2024.075, 79.5], [2024.129, 84.7],
  [2024.173, 80.7], [2024.2, 87.5], [2024.236, 80.0], [2024.272, 88.7], [2024.325, 87.5], [2024.361, 80.0],
  [2024.379, 90.2], [2024.402, 85.0],
];

// ---------- colours ----------
const C_RED = '#e41a1c';
const C_GREEN = '#2fbf71';
const C_YELLOW = '#c98b4f';
const C_BLUE = '#0e0e78';
const C_CYAN = '#3fe3da';
const TSY_COLORS = ['#c6c6c6', '#b8b8b8', '#a8a8a8', '#979797', '#838383', '#6c6c6c', '#585858', '#474747', '#373737', '#282828'];

type Pt = { x: number; y: number | null };
const fromMonths = (months: string[], vals: number[], off = 0): Pt[] =>
  vals.map((v, i) => ({ x: monthX(months[i], off), y: v }));
const fromPairs = (arr: [number, number][]): Pt[] => arr.map(([x, y]) => ({ x, y }));

type PanelProps = {
  index: number;
  title: string;
  yDomain: [number, number];
  yTicks: number[];
  yMinor: number[];
  fmt?: (v: number) => string;
  zero?: boolean;
  lines: React.ReactNode[];
};

const TICK_STYLE = { fontSize: 9, fill: '#5a5a5a', fontFamily: FONT };

function Panel({ index, title, yDomain, yTicks, yMinor, fmt, zero, lines }: PanelProps) {
  return (
    <div style={{ position: 'absolute', left: 0, top: index * PANEL_H, width: W, height: PANEL_H }}>
      <div
        style={{
          position: 'absolute', left: 42, top: 2, fontFamily: FONT, fontSize: 13.3,
          lineHeight: '16px', color: '#111', whiteSpace: 'nowrap',
        }}
      >
        {title}
      </div>
      <LineChart width={W} height={PANEL_H} margin={{ top: 23, right: 6, bottom: 13, left: 0 }}>
        <CartesianGrid
          stroke="#f4f4f4"
          strokeWidth={1}
          horizontalValues={yMinor}
          verticalValues={HALF_YEARS}
        />
        <CartesianGrid
          stroke="#e6e6e6"
          strokeWidth={1}
          horizontalValues={yTicks}
          verticalValues={YEAR_TICKS}
        />
        <XAxis
          type="number"
          dataKey="x"
          domain={X_DOMAIN}
          ticks={YEAR_TICKS}
          allowDataOverflow
          interval={0}
          height={20}
          tick={TICK_STYLE}
          tickSize={3}
          tickMargin={2}
          tickLine={{ stroke: '#b0b0b0' }}
          axisLine={{ stroke: '#8c8c8c', strokeWidth: 1.5 }}
        />
        <YAxis
          type="number"
          dataKey="y"
          domain={yDomain}
          ticks={yTicks}
          allowDataOverflow
          interval={0}
          width={41}
          tick={TICK_STYLE}
          tickSize={3}
          tickMargin={2}
          tickLine={{ stroke: '#b0b0b0' }}
          axisLine={false}
          tickFormatter={fmt}
        />
        <ReferenceArea
          x1={RECESSION_START}
          x2={RECESSION_END}
          fill="#d5dfd6"
          fillOpacity={1}
          stroke="none"
          ifOverflow="hidden"
        />
        {lines}
        {zero ? (
          <ReferenceLine y={0} stroke="#000" strokeDasharray="5 3" strokeWidth={1.4} ifOverflow="hidden" />
        ) : null}
      </LineChart>
      <div
        style={{
          position: 'absolute', left: 41, top: 23, width: 2113, height: 124,
          boxSizing: 'border-box', borderTop: '1.5px solid #bdbdbd', borderLeft: '1px solid #bdbdbd',
          borderRight: '1px solid #bdbdbd', pointerEvents: 'none',
        }}
      />
    </div>
  );
}

const mkLine = (key: string, data: Pt[], color: string, width = 1.5, dash?: string) => (
  <Line
    key={key}
    data={data}
    dataKey="y"
    type="linear"
    stroke={color}
    strokeWidth={width}
    strokeDasharray={dash}
    dot={false}
    activeDot={false}
    connectNulls={false}
    isAnimationActive={false}
  />
);

export default function App() {
  const tsySeries = [DGS1MO, DGS3MO, DGS6MO, DGS1, DGS2, DGS5, DGS7, DGS10, DGS20, DGS30];
  return (
    <div style={{ position: 'absolute', left: 0, top: 0, width: W, height: 1620, background: '#fff', overflow: 'hidden' }}>
      <Panel
        index={0}
        title="US Inflation Rates: 10Y Breakeven T10YIE [red], 5Y Forward Inflation Expectation T5YIFR [green], 5Y Breakeven T5YIE [yellow], UMich Inflation Expectation MICH [blue], Unemployment UNRATE [cyan]"
        yDomain={[-0.66, 15.58]}
        yTicks={[0, 5, 10, 15]}
        yMinor={[2.5, 7.5, 12.5]}
        zero
        lines={[
          mkLine('cyan', fromMonths(INFL_MONTHS, UNRATE), C_CYAN),
          mkLine('blue', fromMonths(INFL_MONTHS, MICH), C_BLUE),
          mkLine('yellow', fromMonths(INFL_MONTHS, T5YIE), C_YELLOW),
          mkLine('red', fromMonths(INFL_MONTHS, T10YIE), C_RED),
          mkLine('green', fromMonths(INFL_MONTHS, T5YIFR), C_GREEN),
        ]}
      />
      <Panel
        index={1}
        title="US Price Indexes: Trimmed Mean PCE Inflation PCETRIM12M159SFRBDAL [red], Sticky CPI Less F&E - % Change 1Y Ago CORESTICKM159SFRBATL [green], Sticky CPI Less F&E - % Change Annualized CORESTICKM158SFRBATL [yellow]"
        yDomain={[-2.53, 8.44]}
        yTicks={[-2.5, 0, 2.5, 5, 7.5]}
        yMinor={[-1.25, 1.25, 3.75, 6.25]}
        fmt={(v) => v.toFixed(1)}
        zero
        lines={[
          mkLine('yellow', fromMonths(PRICE_MONTHS, STICKY_ANN), C_YELLOW, 1.3),
          mkLine('green', fromMonths(PRICE_MONTHS, STICKY_1Y), C_GREEN),
          mkLine('red', fromMonths(PRICE_MONTHS, PCETRIM), C_RED),
        ]}
      />
      <Panel
        index={2}
        title="US Interest Rates: FEDFUNDS [red], SOFR [green], Discount Rate INTDSRUSM193N [yellow], DPRIME [blue]"
        yDomain={[-0.37, 8.85]}
        yTicks={[0, 2, 4, 6, 8]}
        yMinor={[1, 3, 5, 7]}
        zero
        lines={[
          mkLine('blue', fromMonths(RATE_MONTHS, DPRIME), C_BLUE),
          mkLine('yellow', fromMonths(RATE_MONTHS, DISCOUNT), C_YELLOW),
          mkLine('red', fromMonths(RATE_MONTHS, FEDFUNDS), C_RED),
          mkLine('green', fromMonths(RATE_MONTHS, SOFR), C_GREEN),
        ]}
      />
      <Panel
        index={3}
        title="US Treasury Yields (Lighter -> Shorter Duration, Darker -> Longer Duration)"
        yDomain={[-0.27, 6.31]}
        yTicks={[0, 2, 4, 6]}
        yMinor={[1, 3, 5]}
        zero
        lines={tsySeries.map((s, i) =>
          mkLine(`tsy${i}`, fromMonths(TSY_MONTHS, s, 0.04), TSY_COLORS[i], 1.2, '34 4'),
        )}
      />
      <Panel
        index={4}
        title="US Yield Spreads: T10Y2Y [red], T10Y3M [blue]"
        yDomain={[-2.08, 2.48]}
        yTicks={[-2, -1, 0, 1, 2]}
        yMinor={[-1.5, -0.5, 0.5, 1.5]}
        zero
        lines={[
          mkLine('red', fromPairs(T10Y2Y), C_RED, 1.2),
          mkLine('blue', fromPairs(T10Y3M), C_BLUE, 1.3),
        ]}
      />
      <Panel
        index={5}
        title="US Stock Market Indexes (log-adjusted). WILL5000PRFC Index Value as of May-30-2023: 42300.79 (raw index value). 10.65256 (log-adjusted index value)."
        yDomain={[9.986, 10.834]}
        yTicks={[10.0, 10.2, 10.4, 10.6, 10.8]}
        yMinor={[10.1, 10.3, 10.5, 10.7]}
        fmt={(v) => v.toFixed(1)}
        lines={[mkLine('stock', fromPairs(WILL5000_LOG), '#000', 1.2)]}
      />
      <Panel
        index={6}
        title="CBOE Volatility Index (VIX) VIX Value as of Jan-02-1990: 17.24 (raw index value)."
        yDomain={[8.7, 86.5]}
        yTicks={[20, 40, 60, 80]}
        yMinor={[10, 30, 50, 70]}
        lines={[mkLine('vix', fromPairs(VIX), '#000', 1.2)]}
      />
      <Panel
        index={7}
        title="Number of Inverted US Yield Curves. Number of Inversions as of May-30-2024: 47"
        yDomain={[-2.2, 52.5]}
        yTicks={[0, 10, 20, 30, 40, 50]}
        yMinor={[5, 15, 25, 35, 45]}
        lines={[mkLine('inv', fromPairs(INVERSIONS), '#000', 1.2)]}
      />
      <Panel
        index={8}
        title="Number of Inverted US Yield Curves as a % of All US Yield Curves. % of Inversions as of May-30-2024: 85%"
        yDomain={[-3.7, 94.9]}
        yTicks={[0, 20, 40, 60, 80]}
        yMinor={[10, 30, 50, 70, 90]}
        fmt={(v) => `${v}%`}
        lines={[mkLine('pct', fromPairs(INVERSIONS_PCT), '#000', 1.2)]}
      />
    </div>
  );
}
